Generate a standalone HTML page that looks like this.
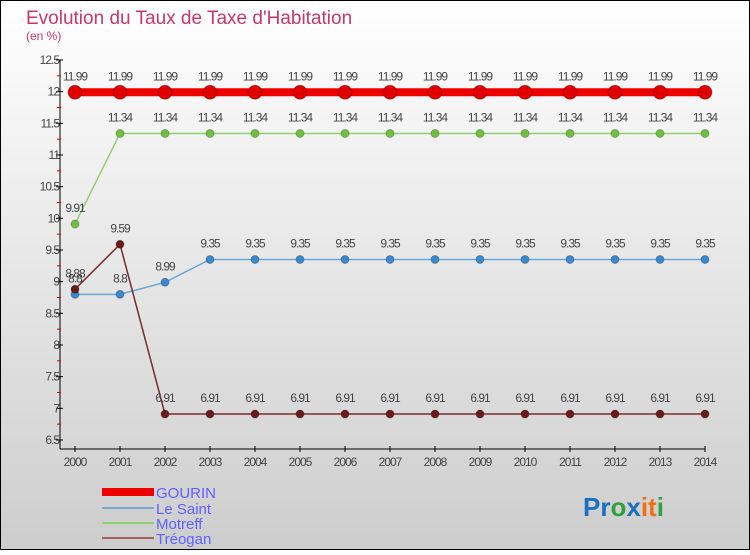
<!DOCTYPE html>
<html><head><meta charset="utf-8"><style>
html,body{margin:0;padding:0}
body{width:750px;height:550px;overflow:hidden;font-family:"Liberation Sans",sans-serif}
svg text{font-family:"Liberation Sans",sans-serif}
</style></head><body>
<svg width="750" height="550">
<defs><linearGradient id="bg" x1="0" y1="0" x2="0" y2="1"><stop offset="0" stop-color="#ffffff"/><stop offset="1" stop-color="#cdcdcd"/></linearGradient></defs>
<rect x="0.5" y="0.5" width="749" height="549" fill="url(#bg)" stroke="#000"/>
<text x="26" y="24" font-size="19" fill="#c8386a">Evolution du Taux de Taxe d'Habitation</text>
<text x="26" y="40" font-size="12" fill="#c8386a">(en %)</text>
<g id="axes"></g><g id="series"></g>
<g>
<rect x="102" y="488" width="52" height="8" fill="#ee0000"/>
<text x="156" y="498" font-size="15" fill="#6060ff">GOURIN</text>
<rect x="102" y="507" width="52" height="2" fill="#7aaad0"/>
<text x="156" y="514" font-size="15" fill="#6060ff">Le Saint</text>
<rect x="102" y="522" width="52" height="2" fill="#90d070"/>
<text x="156" y="529" font-size="15" fill="#6060ff">Motreff</text>
<rect x="102" y="537" width="52" height="2" fill="#a06060"/>
<text x="156" y="544" font-size="15" fill="#6060ff">Tréogan</text>
</g>
<text x="583" y="516" font-size="26" font-weight="bold"><tspan fill="#1a70c0">Pr</tspan><tspan fill="#30a040">o</tspan><tspan fill="#1a70c0">x</tspan><tspan fill="#f07010">it</tspan><tspan fill="#30a040">i</tspan></text>
</svg>
<script>
const years=[2000,2001,2002,2003,2004,2005,2006,2007,2008,2009,2010,2011,2012,2013,2014];
const gourin=[11.99,11.99,11.99,11.99,11.99,11.99,11.99,11.99,11.99,11.99,11.99,11.99,11.99,11.99,11.99];
const leSaint=[8.8,8.8,8.99,9.35,9.35,9.35,9.35,9.35,9.35,9.35,9.35,9.35,9.35,9.35,9.35];
const motreff=[9.91,11.34,11.34,11.34,11.34,11.34,11.34,11.34,11.34,11.34,11.34,11.34,11.34,11.34,11.34];
const treogan=[8.88,9.59,6.91,6.91,6.91,6.91,6.91,6.91,6.91,6.91,6.91,6.91,6.91,6.91,6.91];
const yTicks=[6.5,7,7.5,8,8.5,9,9.5,10,10.5,11,11.5,12,12.5];
const NS="http://www.w3.org/2000/svg";
const x=i=>75+i*45;
const y=v=>60+(12.5-v)*63.33;
function mk(t,a,p){const e=document.createElementNS(NS,t);for(const k in a)e.setAttribute(k,a[k]);p.appendChild(e);return e;}
const ax=document.getElementById('axes');
let l=mk('line',{x1:60,y1:60,x2:60,y2:449,stroke:'#000'},ax);


l=mk('line',{x1:60,y1:449,x2:705,y2:449,stroke:'#000'},ax);


yTicks.forEach(v=>{
 mk('line',{x1:56,y1:y(v),x2:63,y2:y(v),stroke:'#000'},ax);
 if(v<12.5) mk('line',{x1:57,y1:y(v+0.25),x2:61,y2:y(v+0.25),stroke:'#e00000'},ax);
 const t=mk('text',{x:59,y:y(v)+4,'font-size':12,fill:'#444','text-anchor':'end','letter-spacing':'-1'},ax);
 t.textContent=String(v);
 
 
});
years.forEach((yr,i)=>{
 mk('line',{x1:x(i),y1:446,x2:x(i),y2:452,stroke:'#000'},ax);
 const t=mk('text',{x:x(i),y:466,'font-size':12,fill:'#444','text-anchor':'middle','letter-spacing':'-1'},ax);
 t.textContent=String(yr);
 
 
});
const sg=document.getElementById('series');
function series(vals,name,color,mcolor,w,r){
 const g=mk('g',{},sg);
 
 
 const pl=mk('polyline',{points:vals.map((v,i)=>x(i)+','+y(v)).join(' '),fill:'none',stroke:color,'stroke-width':w},g);
 
 
 vals.forEach((v,i)=>{
  const c=mk('circle',{cx:x(i),cy:y(v),r:r,fill:mcolor,stroke:'#00000040'},g);
  
  
  const t=mk('text',{x:x(i),y:y(v)-12,'font-size':12,fill:'#444','text-anchor':'middle','letter-spacing':'-1'},g);
  t.textContent=String(v);
  
  
 });
}
series(leSaint,'le-saint','#6aa8d8','#3a8ad0',1.5,4);
series(motreff,'motreff','#90d070','#70c040',1.5,4);
series(treogan,'treogan','#7a2a2a','#6a1a1a',1.5,4);
series(gourin,'gourin','#ee0000','#e00000',8,7);
</script>
</body></html>
